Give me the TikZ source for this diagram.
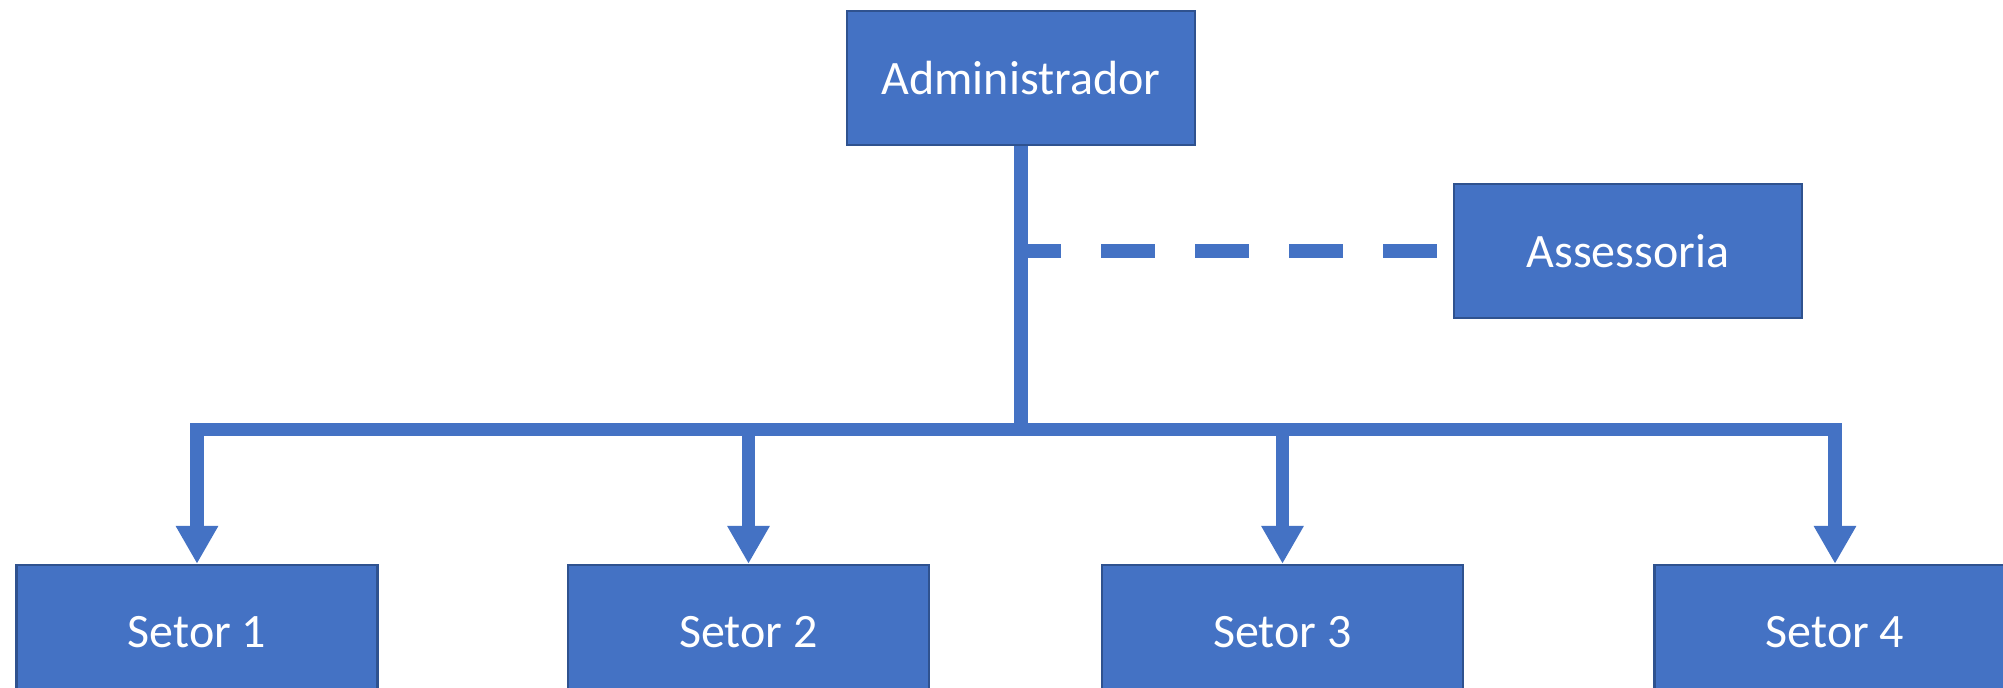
\documentclass[tikz,border=0pt]{standalone}
\usepackage{fontspec}
\setmainfont{Carlito}
\usetikzlibrary{arrows.meta}
\definecolor{boxfill}{HTML}{4472C4}
\definecolor{boxline}{HTML}{2F528F}
\tikzset{
  orgbox/.style={draw=boxline, line width=1.2pt, fill=boxfill, text=white,
    inner sep=0pt, minimum width=174pt, minimum height=67pt,
    font=\fontsize{24pt}{28pt}\selectfont},
  setorbox/.style={orgbox, minimum width=180.5pt},
  conn/.style={draw=boxfill, line width=6.75pt, line join=miter},
  arr/.style={conn, -{Triangle[width=20pt,length=19pt]}},
  dashconn/.style={draw=boxfill, line width=6.75pt, dash pattern=on 27pt off 20pt, dash phase=7pt}
}
\begin{document}
\begin{tikzpicture}[x=0.5pt,y=-0.5pt]
\clip (0,0) rectangle (2003,687);
\fill[white] (0,0) rectangle (2003,687);
\node[orgbox] (adm) at (1021,78) {Administrador};
\node[orgbox] (ass) at (1628,251) {Assessoria};
\node[setorbox] (s1) at (197,632) {Setor 1};
\node[setorbox] (s2) at (748.5,632) {Setor 2};
\node[setorbox] (s3) at (1282.5,632) {Setor 3};
\node[setorbox] (s4) at (1835,632) {Setor 4};
\coordinate (bus) at (1021,429.5);
\coordinate (dj) at (1021,251);
\path[dashconn] (dj) -- (dj -| ass.west);
\path[arr] (adm.south) -- (bus) -| (s1.north);
\path[arr] (adm.south) -- (bus) -| (s2.north);
\path[arr] (adm.south) -- (bus) -| (s3.north);
\path[arr] (adm.south) -- (bus) -| (s4.north);
\end{tikzpicture}
\end{document}
